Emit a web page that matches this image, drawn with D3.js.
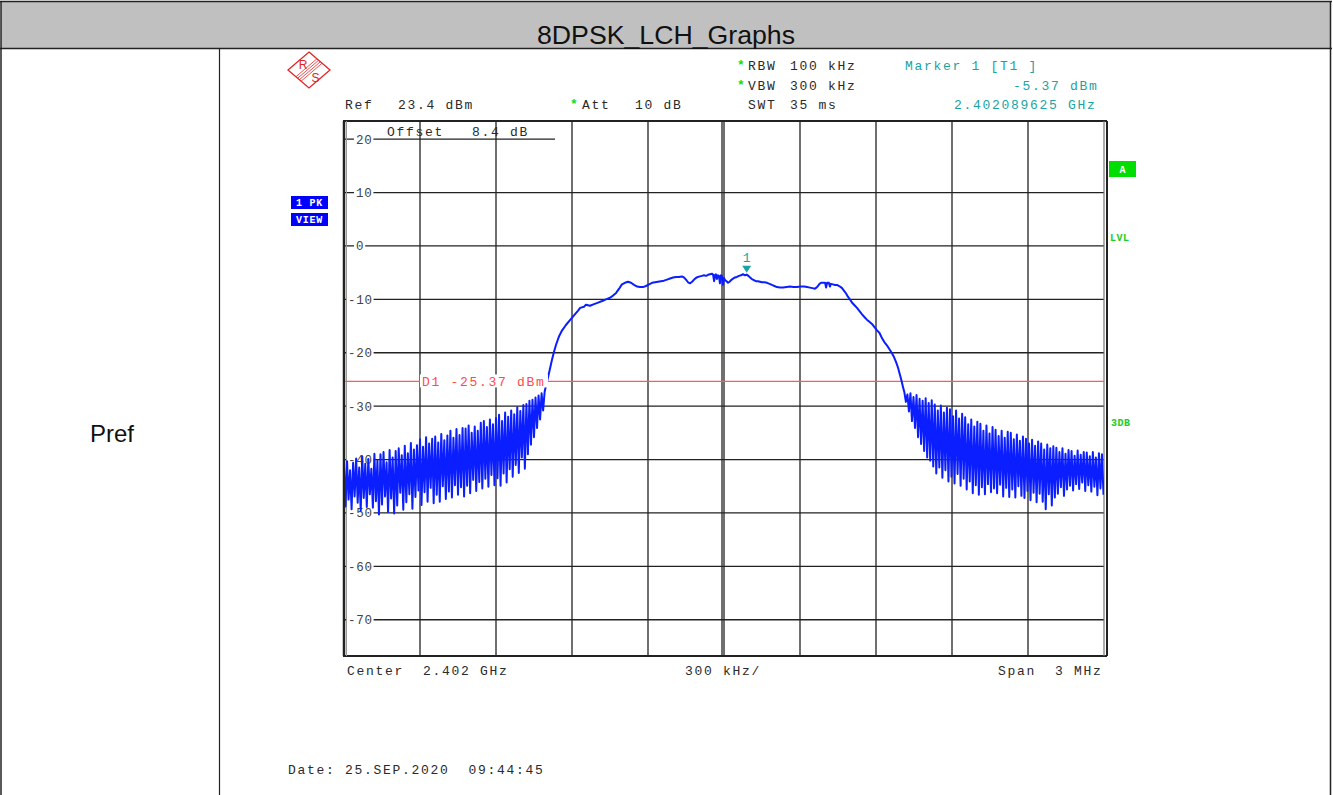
<!DOCTYPE html>
<html>
<head>
<meta charset="utf-8">
<script src="https://cdn.jsdelivr.net/npm/d3@7"></script>
<style>
  html, body { margin: 0; padding: 0; background: #fff; }
  svg { display: block; }
  .mono { font-family: "Liberation Mono", "DejaVu Sans Mono", monospace; font-size: 13px; letter-spacing: 1.7px; white-space: pre; }
</style>
</head>
<body>
<svg id="chart" width="1333" height="795"></svg>
<script>
// ---------------- DATA ----------------
const chartTitle = "8DPSK_LCH_Graphs";
const rowLabel = "Pref";
const centerGHz = 2.402;
const spanKHz = 3000;
const refLevelDbm = 23.4;
const dbPerDiv = 10;
const yTickValues = [20, 10, 0, -10, -20, -30, -40, -50, -60, -70];
const displayLineDbm = -25.37;
const markerFreqGHz = 2.402089625;
const markerLevelDbm = -5.37;

// Trace, left skirt: samples every 6 kHz starting at -1500 kHz from centre
const skirtStepKHz = 6;
const leftSkirtStartKHz = -1500;
const leftSkirtDbm = [
  -41.2,-48.8,-40.3,-47.5,-42.0,-49.3,-40.6,-46.9,-39.8,-48.1,
  -41.5,-49.6,-39.4,-47.2,-40.8,-48.9,-39.9,-46.5,-41.7,-49.0,
  -38.9,-47.8,-40.2,-50.3,-39.0,-48.4,-38.6,-46.9,-40.5,-49.8,
  -38.2,-47.3,-39.6,-50.1,-38.4,-48.6,-37.9,-46.2,-39.2,-49.4,
  -37.4,-48.0,-38.8,-46.5,-36.9,-49.2,-38.1,-47.0,-37.3,-45.8,
  -36.2,-48.5,-37.6,-46.1,-35.8,-47.9,-37.0,-45.3,-36.1,-48.2,
  -35.7,-46.6,-36.8,-47.9,-35.2,-45.0,-36.4,-47.4,-35.5,-46.0,
  -34.6,-47.1,-35.9,-44.8,-34.3,-46.6,-35.4,-45.2,-34.1,-46.9,
  -34.2,-44.9,-33.6,-46.3,-35.0,-43.8,-33.8,-45.9,-34.6,-44.2,
  -33.1,-45.4,-32.8,-43.6,-33.9,-45.1,-32.5,-42.9,-33.4,-44.8,
  -32.2,-43.5,-31.6,-44.9,-32.8,-42.6,-31.2,-44.3,-32.0,-41.8,
  -30.8,-43.2,-31.5,-41.0,-30.2,-42.5,-30.9,-39.6,-29.8,-41.7,
  -29.6,-39.0,-29.0,-37.2,-28.8,-35.8,-28.4,-34.1,-28.0,-32.5,
  -27.6,-30.8,-27.3
];

// Trace, main lobe: [kHz offset from centre, dBm]
const mainLobe = [
  [-702,-26.0],[-695,-24.7],[-687,-23.0],[-679,-21.3],[-671,-19.8],[-663,-18.5],[-651,-16.9],[-639,-15.8],
  [-624,-14.8],[-608,-13.9],[-592,-13.0],[-576,-12.1],[-568,-11.6],[-553,-11.4],[-545,-11.0],[-529,-11.2],
  [-513,-10.9],[-497,-10.6],[-481,-10.3],[-466,-10.0],[-450,-9.7],[-438,-9.3],[-426,-8.8],[-414,-8.0],
  [-403,-7.2],[-391,-6.9],[-379,-6.7],[-367,-6.9],[-355,-7.3],[-343,-7.6],[-332,-7.7],[-320,-7.7],
  [-308,-7.5],[-296,-7.2],[-284,-6.9],[-272,-6.8],[-261,-6.7],[-249,-6.6],[-237,-6.5],[-225,-6.3],
  [-213,-6.1],[-201,-5.9],[-189,-5.8],[-178,-5.8],[-166,-5.7],[-158,-5.9],[-150,-6.3],[-142,-6.8],
  [-134,-7.0],[-126,-6.7],[-118,-6.3],[-111,-6.0],[-103,-5.8],[-95,-5.7],[-87,-5.6],[-79,-5.5],
  [-71,-5.6],[-63,-5.4],[-55,-5.3],[-47,-5.2],[-43,-5.4],[-39,-6.6],[-35,-5.4],[-32,-5.3],
  [-28,-6.2],[-24,-5.5],[-20,-5.6],[-16,-7.0],[-12,-5.5],[-8,-5.6],[-4,-7.3],[0,-6.0],
  [4,-6.4],[10,-6.6],[16,-6.9],[22,-6.7],[28,-6.4],[36,-6.1],[43,-5.9],[51,-5.8],
  [59,-5.6],[67,-5.5],[75,-5.3],[83,-5.5],[89.6,-5.37],[96,-5.6],[103,-5.9],[110,-6.2],
  [118,-6.4],[126,-6.6],[134,-6.6],[142,-6.7],[150,-6.8],[160,-6.8],[170,-6.9],[180,-7.1],
  [189,-7.3],[199,-7.5],[209,-7.7],[221,-7.8],[233,-7.8],[247,-7.7],[261,-7.6],[274,-7.7],
  [288,-7.7],[302,-7.6],[316,-7.6],[328,-7.7],[339,-7.8],[349,-7.9],[359,-8.0],[365,-7.8],
  [371,-7.5],[377,-7.1],[383,-6.9],[391,-6.9],[399,-6.9],[403,-7.8],[407,-6.9],[414,-6.9],
  [418,-7.6],[422,-7.1],[430,-7.2],[438,-7.3],[446,-7.3],[458,-7.6],[466,-7.9],[474,-8.4],
  [482,-8.9],[489,-9.5],[497,-10.0],[505,-10.6],[515,-11.1],[525,-11.6],[535,-12.2],[545,-12.8],
  [556,-13.4],[564,-13.8],[574,-14.2],[584,-14.6],[594,-15.2],[604,-15.8],[614,-16.3],[624,-17.3],
  [633,-18.0],[643,-18.6],[655,-19.5],[663,-20.1],[671,-20.8],[679,-21.7],[687,-22.8],[695,-24.2],
  [701,-25.3],[706,-26.3]
];

// Trace, right skirt: samples every 6 kHz starting at +712 kHz from centre
const rightSkirtStartKHz = 712;
const rightSkirtDbm = [
  -27.4,-29.2,-27.8,-31.0,-27.6,-32.8,-28.3,-34.1,-27.9,-35.8,
  -28.6,-37.1,-29.0,-38.4,-28.5,-39.6,-29.4,-40.2,-28.9,-41.3,
  -29.7,-42.6,-30.8,-41.5,-29.9,-43.4,-31.2,-42.0,-30.3,-44.1,
  -30.6,-43.2,-31.9,-44.5,-30.8,-42.7,-32.3,-44.9,-31.4,-43.6,
  -32.1,-45.6,-33.4,-44.1,-32.5,-46.3,-33.8,-44.8,-32.9,-46.6,
  -33.3,-45.2,-34.6,-46.5,-33.6,-44.6,-35.1,-46.1,-33.9,-45.4,
  -34.4,-46.3,-35.6,-44.7,-34.6,-46.9,-35.9,-45.3,-34.8,-47.0,
  -35.0,-45.6,-36.2,-47.1,-35.3,-45.0,-36.5,-46.8,-35.7,-47.2,
  -36.1,-45.9,-37.0,-47.6,-36.3,-46.2,-37.4,-48.0,-36.6,-46.4,
  -37.0,-47.9,-38.1,-49.3,-37.2,-46.5,-37.9,-48.6,-37.5,-47.1,
  -37.8,-46.4,-38.6,-45.2,-37.9,-46.8,-38.9,-45.6,-38.2,-44.9,
  -38.4,-45.8,-39.3,-44.6,-38.3,-45.5,-39.1,-44.3,-38.6,-45.9,
  -38.7,-44.8,-39.4,-46.0,-38.6,-45.1,-39.6,-46.7,-38.8,-45.4,
  -39.0,-46.6
];

// Instrument annotation texts
const headerLeft = { ref: "Ref", refVal: "23.4 dBm", att: "Att", attVal: "10 dB" };
const settings = [["RBW", "100 kHz", true], ["VBW", "300 kHz", true], ["SWT", "35 ms", false]];
const markerTexts = ["Marker 1 [T1 ]", "-5.37 dBm", "2.402089625 GHz"];
const offsetTexts = ["Offset", "8.4 dB"];
const footer = { center: "Center  2.402 GHz", perDiv: "300 kHz/", span: "Span  3 MHz" };
const dateText = "Date: 25.SEP.2020  09:44:45";

// ---------------- DRAW ----------------
const svg = d3.select("#chart");
const W = 1333, H = 795;

// table layout
svg.append("rect").attr("x", 1).attr("y", 2).attr("width", 1329).attr("height", 46).attr("fill", "#c0c0c0");
svg.append("line").attr("x1", 0).attr("x2", 1332).attr("y1", 1.5).attr("y2", 1.5).attr("stroke", "#222").attr("stroke-width", 1.5);
svg.append("line").attr("x1", 0).attr("x2", 1332).attr("y1", 48.5).attr("y2", 48.5).attr("stroke", "#222").attr("stroke-width", 1.5);
svg.append("line").attr("x1", 1).attr("x2", 1).attr("y1", 1).attr("y2", H).attr("stroke", "#222").attr("stroke-width", 1.5);
svg.append("line").attr("x1", 1330.5).attr("x2", 1330.5).attr("y1", 1).attr("y2", H).attr("stroke", "#222").attr("stroke-width", 1.5);
svg.append("line").attr("x1", 219.5).attr("x2", 219.5).attr("y1", 48).attr("y2", H).attr("stroke", "#222").attr("stroke-width", 1.2);

svg.append("text").attr("x", 666).attr("y", 44).attr("text-anchor", "middle")
  .attr("font-family", "Liberation Sans, Arial, sans-serif").attr("font-size", 25)
  .attr("textLength", 258).attr("lengthAdjust", "spacingAndGlyphs")
  .attr("fill", "#111").text(chartTitle);
svg.append("text").attr("x", 112).attr("y", 442).attr("text-anchor", "middle")
  .attr("font-family", "Liberation Sans, Arial, sans-serif").attr("font-size", 24)
  .attr("fill", "#111").text(rowLabel);

// scales
const x0 = 344, x1 = 1104, y0 = 121, y1 = 655;
const x = d3.scaleLinear().domain([-spanKHz / 2, spanKHz / 2]).range([x0, x1]);
const y = d3.scaleLinear().domain([refLevelDbm, refLevelDbm - 10 * dbPerDiv]).range([y0, y1]);
const ghzToKHz = g => (g - centerGHz) * 1e6;

const textCol = "#2a2a2a";
const teal = "#1aa3a3";
const green = "#11dd11";

// grid vertical
const grid = svg.append("g");
const vDivs = d3.range(1, 10).map(i => -spanKHz / 2 + i * spanKHz / 10);
grid.selectAll("line.v").data(vDivs).join("line")
  .attr("x1", d => x(d)).attr("x2", d => x(d)).attr("y1", y0).attr("y2", y1)
  .attr("stroke", "#222").attr("stroke-width", 1.3);
grid.append("line").attr("x1", x(0) - 2).attr("x2", x(0) - 2).attr("y1", y0).attr("y2", y1)
  .attr("stroke", "#222").attr("stroke-width", 1.3);

// horizontal gridlines
const hLines = yTickValues.filter(v => v !== 20);
grid.selectAll("line.h").data(hLines).join("line")
  .attr("x1", x0).attr("x2", x1).attr("y1", d => y(d)).attr("y2", d => y(d))
  .attr("stroke", "#222").attr("stroke-width", 1.3);
grid.append("line").attr("x1", x0).attr("x2", 555).attr("y1", y(20)).attr("y2", y(20))
  .attr("stroke", "#222").attr("stroke-width", 1.2);

// y tick labels
const yLab = svg.append("g");
yTickValues.forEach(v => {
  const label = String(v);
  const lx = v < 0 ? 348 : 356;
  const w = label.length * 8.2 + 3;
  yLab.append("rect").attr("x", lx - 2).attr("y", y(v) - 5).attr("width", w).attr("height", 10).attr("fill", "#fff");
  yLab.append("text").attr("x", lx).attr("y", y(v) + 4.5)
    .attr("font-family", "Liberation Mono, monospace").attr("font-size", 12.5)
    .attr("letter-spacing", "0.7px").attr("fill", "#444").text(label);
});

// Offset label
svg.append("text").attr("class", "mono").attr("x", 387).attr("y", 136).attr("fill", textCol).text(offsetTexts[0]);
svg.append("text").attr("class", "mono").attr("x", 472).attr("y", 136).attr("fill", textCol).text(offsetTexts[1]);

// frame
svg.append("line").attr("x1", x0 - 1).attr("x2", x1 + 3).attr("y1", y0).attr("y2", y0).attr("stroke", "#222").attr("stroke-width", 2);
svg.append("line").attr("x1", x0 - 1).attr("x2", x1 + 3).attr("y1", y1 + 1).attr("y2", y1 + 1).attr("stroke", "#222").attr("stroke-width", 2);
svg.append("line").attr("x1", x0).attr("x2", x0).attr("y1", y0).attr("y2", y1 + 1).attr("stroke", "#222").attr("stroke-width", 2.5);
svg.append("line").attr("x1", x0 + 2.5).attr("x2", x0 + 2.5).attr("y1", y0).attr("y2", y1 + 1).attr("stroke", "#999").attr("stroke-width", 1);
svg.append("line").attr("x1", x1).attr("x2", x1).attr("y1", y0).attr("y2", y1 + 1).attr("stroke", "#777").attr("stroke-width", 1.2);
svg.append("line").attr("x1", x1 + 3).attr("x2", x1 + 3).attr("y1", y0).attr("y2", y1 + 1).attr("stroke", "#222").attr("stroke-width", 2);

// display line D1
svg.append("line").attr("x1", x0 + 1).attr("x2", x1).attr("y1", y(displayLineDbm)).attr("y2", y(displayLineDbm))
  .attr("stroke", "#ff5a5a").attr("stroke-width", 1.3);

// trace
const trace = [];
leftSkirtDbm.forEach((d, i) => trace.push([leftSkirtStartKHz + i * skirtStepKHz, d]));
mainLobe.forEach(p => trace.push(p));
rightSkirtDbm.forEach((d, i) => trace.push([rightSkirtStartKHz + i * skirtStepKHz, d]));

svg.append("clipPath").attr("id", "plotclip").append("rect")
  .attr("x", x0 + 1).attr("y", y0).attr("width", x1 - x0 - 1).attr("height", y1 - y0);
svg.append("path").datum(trace)
  .attr("clip-path", "url(#plotclip)")
  .attr("fill", "none").attr("stroke", "#0a1eff").attr("stroke-width", 2).attr("stroke-linejoin", "round")
  .attr("d", d3.line().x(d => x(d[0])).y(d => y(d[1])));

// D1 label (over the trace)
const d1y = y(displayLineDbm);
svg.append("rect").attr("x", 420).attr("y", d1y - 7).attr("width", 128).attr("height", 13).attr("fill", "#fff");
svg.append("text").attr("class", "mono").attr("x", 422).attr("y", d1y + 4.5).attr("fill", "#ff4a4a").text("D1 -25.37 dBm");

// marker
const mx = x(ghzToKHz(markerFreqGHz)), my = y(markerLevelDbm);
svg.append("path").attr("d", `M${mx - 4.5},${my - 9} L${mx + 4.5},${my - 9} L${mx},${my - 2} Z`).attr("fill", teal);
svg.append("text").attr("x", mx).attr("y", my - 13).attr("text-anchor", "middle")
  .attr("font-family", "Liberation Mono, monospace").attr("font-size", 13).attr("fill", teal).text("1");

// header texts
const hdr = svg.append("g");
hdr.append("text").attr("class", "mono").attr("x", 345).attr("y", 109).attr("fill", textCol).text(headerLeft.ref);
hdr.append("text").attr("class", "mono").attr("x", 398).attr("y", 109).attr("fill", textCol).text(headerLeft.refVal);
hdr.append("text").attr("class", "mono").attr("x", 570).attr("y", 108).attr("fill", green).attr("font-weight", "bold").text("*");
hdr.append("text").attr("class", "mono").attr("x", 582).attr("y", 109).attr("fill", textCol).text(headerLeft.att);
hdr.append("text").attr("class", "mono").attr("x", 635).attr("y", 109).attr("fill", textCol).text(headerLeft.attVal);
settings.forEach((s, i) => {
  const by = 70 + i * 19.5;
  if (s[2]) hdr.append("text").attr("class", "mono").attr("x", 737).attr("y", by - 1).attr("fill", green).attr("font-weight", "bold").text("*");
  hdr.append("text").attr("class", "mono").attr("x", 748).attr("y", by).attr("fill", textCol).text(s[0]);
  hdr.append("text").attr("class", "mono").attr("x", 790).attr("y", by).attr("fill", textCol).text(s[1]);
});
hdr.append("text").attr("class", "mono").attr("x", 905).attr("y", 70).attr("fill", teal).text(markerTexts[0]);
hdr.append("text").attr("class", "mono").attr("x", 1013).attr("y", 89.5).attr("fill", teal).text(markerTexts[1]);
hdr.append("text").attr("class", "mono").attr("x", 954).attr("y", 109).attr("fill", teal).text(markerTexts[2]);

// R&S logo
const logo = svg.append("g").attr("transform", "translate(309,70)");
logo.append("path").attr("d", "M0,-18 L21,0 L0,18 L-21,0 Z").attr("fill", "none").attr("stroke", "#e02424").attr("stroke-width", 1.3);
[-2.4, -0.8, 0.8, 2.4].forEach(o => {
  logo.append("line").attr("x1", 10.5 + o).attr("y1", -9 + o).attr("x2", -10.5 + o).attr("y2", 9 + o)
    .attr("stroke", "#e02424").attr("stroke-width", 0.8);
});
logo.append("text").attr("x", -6).attr("y", -1.5).attr("text-anchor", "middle")
  .attr("font-family", "Liberation Sans, Arial, sans-serif").attr("font-size", 12).attr("fill", "#e02424").text("R");
logo.append("text").attr("x", 6.5).attr("y", 12).attr("text-anchor", "middle")
  .attr("font-family", "Liberation Sans, Arial, sans-serif").attr("font-size", 12).attr("fill", "#e02424").text("S");

// 1 PK / VIEW boxes
const blueBox = (yy, label) => {
  svg.append("rect").attr("x", 291).attr("y", yy).attr("width", 37).attr("height", 13).attr("fill", "#0000ff");
  svg.append("text").attr("x", 309.5).attr("y", yy + 10).attr("text-anchor", "middle")
    .attr("font-family", "Liberation Mono, monospace").attr("font-size", 10).attr("font-weight", "bold")
    .attr("letter-spacing", "0.8px").attr("fill", "#fff").style("white-space", "pre").text(label);
};
blueBox(196, "1 PK");
blueBox(213, "VIEW");

// right side status
svg.append("rect").attr("x", 1109).attr("y", 161).attr("width", 27).attr("height", 16).attr("fill", "#00dd00");
svg.append("text").attr("x", 1122.5).attr("y", 173).attr("text-anchor", "middle")
  .attr("font-family", "Liberation Mono, monospace").attr("font-size", 10).attr("font-weight", "bold").attr("fill", "#fff").text("A");
svg.append("text").attr("x", 1110).attr("y", 241).attr("font-family", "Liberation Mono, monospace").attr("font-size", 10)
  .attr("font-weight", "bold").attr("letter-spacing", "0.5px").attr("fill", "#22cc22").text("LVL");
svg.append("text").attr("x", 1111).attr("y", 426).attr("font-family", "Liberation Mono, monospace").attr("font-size", 10)
  .attr("font-weight", "bold").attr("letter-spacing", "0.5px").attr("fill", "#22cc22").text("3DB");

// footer
svg.append("text").attr("class", "mono").attr("x", 347).attr("y", 675).attr("fill", textCol).text(footer.center);
svg.append("text").attr("class", "mono").attr("x", 685).attr("y", 675).attr("fill", textCol).text(footer.perDiv);
svg.append("text").attr("class", "mono").attr("x", 998).attr("y", 675).attr("fill", textCol).text(footer.span);
svg.append("text").attr("class", "mono").attr("x", 288).attr("y", 774).attr("fill", textCol).text(dateText);
</script>
</body>
</html>
